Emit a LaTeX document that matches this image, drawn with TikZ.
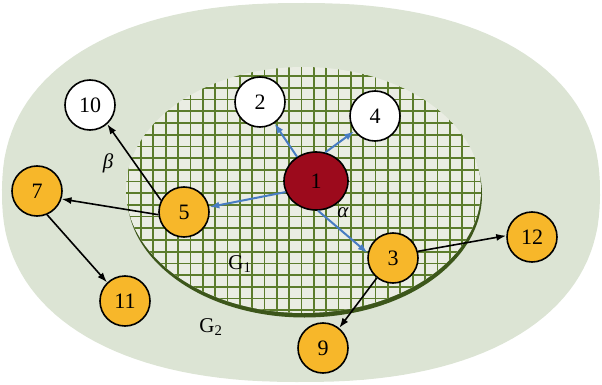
\documentclass[tikz,border=0pt]{standalone}
\usepackage{fontspec}
\setmainfont{Liberation Serif}
\usetikzlibrary{arrows.meta, shapes.geometric}

\definecolor{sagebg}{RGB}{220,228,212}
\definecolor{cellbg}{RGB}{234,237,227}
\definecolor{gridgreen}{RGB}{92,124,44}
\definecolor{rimgreen}{RGB}{60,86,26}
\definecolor{nodeorange}{RGB}{247,183,42}
\definecolor{hubred}{RGB}{156,10,28}
\definecolor{linkblue}{RGB}{72,124,194}

\begin{document}
\begin{tikzpicture}[x=1pt, y=-1pt,
    vertex/.style={circle, draw, line width=1.6pt, minimum size=50pt, inner sep=0pt, font=\fontsize{22}{22}\selectfont},
    hub/.style={ellipse, draw, line width=1.6pt, fill=hubred, minimum width=64pt, minimum height=58pt, inner sep=0pt, font=\fontsize{22}{22}\selectfont},
    label/.style={font=\fontsize{21}{21}\selectfont, inner sep=0pt},
    arrow/.style={-{Latex[length=10pt, width=7pt]}, line width=1.6pt},
    bluearrow/.style={arrow, draw=linkblue, line width=2pt}
]

\useasboundingbox (0,0) rectangle (602,385);

% region G2
\fill[sagebg] plot[domain=0.5:360.5, samples=145]
    ({301+299*sign(cos(\x))*abs(cos(\x))^0.87}, {192.5+189.5*sign(sin(\x))*abs(sin(\x))^0.87}) -- cycle;

% region G1
\fill[rimgreen] (304.5,194.5) ellipse [x radius=177.5, y radius=123];
\fill[cellbg] (303.5,190) ellipse [x radius=177.5, y radius=123];
\begin{scope}
\clip (303.5,190) ellipse [x radius=177.5, y radius=123];
\foreach \gx in {0,...,28}
    \draw[gridgreen, line width=1.7pt] ({128.6+12.35*\gx},60) -- ++(0,260);
\foreach \gy in {0,...,21}
    \draw[gridgreen, line width=1.7pt] (120,{64.5+11.7*\gy}) -- ++(370,0);
\end{scope}

\node[hub] (n1) at (316,181) {1};
\node[vertex, fill=white] (n2) at (260,102) {2};
\node[vertex, fill=white] (n4) at (375,116) {4};
\node[vertex, fill=white] (n10) at (90,105) {10};
\node[vertex, fill=nodeorange] (n5) at (184,212) {5};
\node[vertex, fill=nodeorange] (n7) at (37,191) {7};
\node[vertex, fill=nodeorange] (n11) at (125,301) {11};
\node[vertex, fill=nodeorange] (n3) at (393,258) {3};
\node[vertex, fill=nodeorange] (n12) at (532,237) {12};
\node[vertex, fill=nodeorange] (n9) at (323,348) {9};

\node[label] (alpha) at (343,213) {\itshape α};
\node[label] (beta) at (108,163) {\itshape β};
\node[label] (g1) at (240,264) {G\textsubscript{1}};
\node[label] (g2) at (211,327) {G\textsubscript{2}};

\draw[bluearrow] (n1.128) -- (n2);
\draw[bluearrow] (n1.72) -- (n4);
\draw[bluearrow] (n1.200) -- (n5);
\draw[bluearrow] (n1.-86) -- (n3.169);

\draw[arrow] (n5.153) -- (n10.-48);
\draw[arrow] (n5.186) -- (n7.-18);
\draw[arrow] (n7.-67) -- (n11.134);
\draw[arrow] (n3.15) -- (n12.177);
\draw[arrow] (n3.231) -- (n9.51);

\end{tikzpicture}
\end{document}
